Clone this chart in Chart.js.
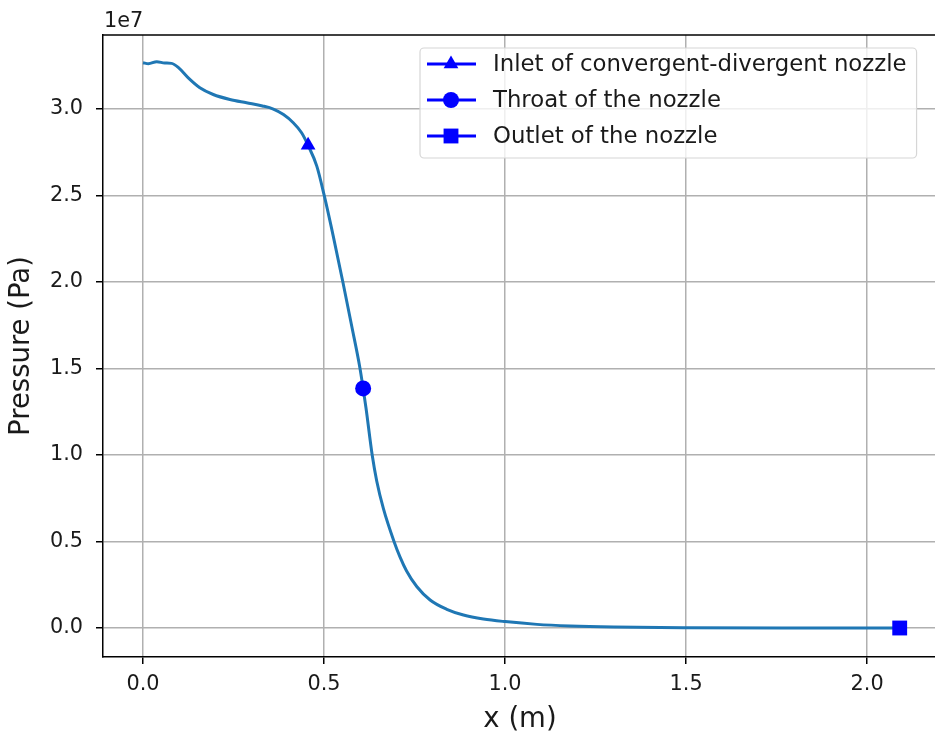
<!DOCTYPE html>
<html>
<head>
<meta charset="utf-8">
<title>Pressure along the nozzle</title>
<script src="https://cdn.jsdelivr.net/npm/chart.js@4.4.0/dist/chart.umd.min.js"></script>
<style>
    body { margin: 0; background: #fff; overflow: hidden; }
    #wrap { width: 935px; height: 738px; overflow: hidden; position: relative; }
</style>
</head>
<body>
<div id="wrap"><canvas id="canvas" width="950" height="738"></canvas></div>
<script>
// axial position (m) and static pressure (units of 1e7 Pa)
const xPos = [
    0.000, 0.015, 0.038, 0.060, 0.079, 0.098, 0.125, 0.157, 0.194, 0.240,
    0.286, 0.330, 0.360, 0.388, 0.415, 0.438, 0.456, 0.480, 0.500, 0.525,
    0.552, 0.576, 0.599, 0.608, 0.616, 0.633, 0.6455, 0.664, 0.693, 0.710,
    0.728, 0.756, 0.793, 0.839, 0.885, 0.940, 1.000, 1.088, 1.180, 1.300,
    1.500, 1.800, 2.090,
];
const pressure = [
    3.268, 3.262, 3.274, 3.266, 3.264, 3.239, 3.180, 3.123, 3.084, 3.055,
    3.036, 3.018, 3.000, 2.968, 2.921, 2.863, 2.790, 2.670, 2.505, 2.270,
    2.000, 1.750, 1.505, 1.385, 1.270, 1.000, 0.850, 0.690, 0.502, 0.410,
    0.330, 0.240, 0.162, 0.108, 0.075, 0.052, 0.037, 0.021, 0.012, 0.006,
    0.002, 0.0005, 0.000,
];

// marked locations
const markerLabels = ['Inlet of convergent-divergent nozzle', 'Throat of the nozzle', 'Outlet of the nozzle'];
const markerX = [0.456, 0.608, 2.090];
const markerY = [2.790, 1.385, 0.000];
const markerStyles = ['triangle', 'circle', 'rect'];

const xTicks = [0, 0.5, 1.0, 1.5, 2.0];
const yTicks = [0, 0.5, 1.0, 1.5, 2.0, 2.5, 3.0];

const FONT = "'DejaVu Sans', sans-serif";
const TEXT = '#1a1a1a';
const MARKER_BLUE = '#0000ff';
const markerRadius = { triangle: 8.5, circle: 8, rect: 10.5 };

function drawMarker(ctx, style, x, y) {
    const r = markerRadius[style];
    ctx.beginPath();
    if (style === 'triangle') {
        ctx.moveTo(x, y - r);
        ctx.lineTo(x + r * Math.sin(2 * Math.PI / 3), y + r / 2);
        ctx.lineTo(x - r * Math.sin(2 * Math.PI / 3), y + r / 2);
        ctx.closePath();
    } else if (style === 'circle') {
        ctx.arc(x, y, r, 0, Math.PI * 2);
    } else {
        const s = r * Math.SQRT1_2;
        ctx.rect(x - s, y - s, 2 * s, 2 * s);
    }
    ctx.fill();
}

const frameAndLegend = {
    id: 'frameAndLegend',
    afterDatasetsDraw(chart) {
        const ctx = chart.ctx;
        const area = chart.chartArea;
        ctx.save();

        // top spine; the right one is cut off in the original picture
        ctx.strokeStyle = '#000';
        ctx.lineWidth = 1.5;
        ctx.beginPath();
        ctx.moveTo(area.left, area.top);
        ctx.lineTo(area.right, area.top);
        ctx.stroke();

        // offset text of the y axis
        ctx.fillStyle = TEXT;
        ctx.font = '20.8px ' + FONT;
        ctx.textAlign = 'left';
        ctx.textBaseline = 'alphabetic';
        ctx.fillText('1e7', area.left + 1, area.top - 8);

        // legend
        ctx.font = '22.8px ' + FONT;
        const entries = chart.data.datasets.filter((d) => d.inLegend);
        const boxX = 420, boxY = 48, rowH = 36;
        const textX = boxX + 73;
        let maxW = 0;
        entries.forEach((d) => { maxW = Math.max(maxW, ctx.measureText(d.label).width); });
        const boxW = textX - boxX + maxW + 10;
        const boxH = 110;

        ctx.globalAlpha = 0.8;
        ctx.fillStyle = '#fff';
        ctx.beginPath();
        ctx.roundRect(boxX, boxY, boxW, boxH, 4);
        ctx.fill();
        ctx.globalAlpha = 1;
        ctx.strokeStyle = '#d6d6d6';
        ctx.lineWidth = 1.2;
        ctx.stroke();

        entries.forEach((d, i) => {
            const cy = boxY + 16 + i * rowH;
            ctx.strokeStyle = d.borderColor;
            ctx.lineWidth = 3;
            ctx.beginPath();
            ctx.moveTo(boxX + 7, cy);
            ctx.lineTo(boxX + 56, cy);
            ctx.stroke();
            ctx.fillStyle = d.backgroundColor;
            drawMarker(ctx, d.pointStyle, boxX + 31, cy);
            ctx.fillStyle = TEXT;
            ctx.textBaseline = 'middle';
            ctx.fillText(d.label, textX, cy + 1);
        });
        ctx.restore();
    },
};

const datasets = [
    {
        label: 'pressure',
        data: xPos.map((x, i) => ({ x: x, y: pressure[i] })),
        borderColor: '#1f77b4',
        borderWidth: 3,
        pointRadius: 0,
        cubicInterpolationMode: 'monotone',
        order: 1,
    },
];
markerLabels.forEach((label, i) => {
    datasets.push({
        label: label,
        inLegend: true,
        data: [{ x: markerX[i], y: markerY[i] }],
        borderColor: MARKER_BLUE,
        backgroundColor: MARKER_BLUE,
        pointStyle: markerStyles[i],
        pointRadius: markerRadius[markerStyles[i]],
        pointBorderWidth: 0,
        order: 0,
    });
});

const tickFont = { family: FONT, size: 20.8 };
const titleFont = { family: FONT, size: 27.5 };

// grid and tick marks only on the listed values
const gridColor = (list) => (c) => (c.tick && list.includes(c.tick.value) ? '#b0b0b0' : 'rgba(0,0,0,0)');
const tickColor = (list) => (c) => (c.tick && list.includes(c.tick.value) ? '#000' : 'rgba(0,0,0,0)');

new Chart(document.getElementById('canvas'), {
    type: 'line',
    data: { datasets: datasets },
    options: {
        responsive: false,
        animation: false,
        events: [],
        layout: { autoPadding: false, padding: { top: 35, right: 13, left: 0, bottom: 0 } },
        plugins: { legend: { display: false }, tooltip: { enabled: false } },
        scales: {
            x: {
                type: 'linear',
                min: -0.1105,
                max: 2.193,
                afterFit: (scale) => { scale.height = 81; },
                afterBuildTicks: (scale) => { scale.ticks = xTicks.map((v) => ({ value: v })); },
                ticks: {
                    font: tickFont,
                    color: TEXT,
                    padding: 8,
                    maxRotation: 0,
                    includeBounds: false,
                    autoSkip: false,
                    callback: (v) => v.toFixed(1),
                },
                grid: { color: gridColor(xTicks), lineWidth: 1.5, tickColor: tickColor(xTicks), tickLength: 7, tickWidth: 1.5 },
                border: { color: '#000', width: 1.5 },
                title: { display: true, text: 'x (m)', font: titleFont, color: TEXT, padding: { top: 0, bottom: 1.5 } },
            },
            y: {
                type: 'linear',
                min: -0.1676,
                max: 3.428,
                afterFit: (scale) => { scale.width = 103; },
                afterBuildTicks: (scale) => { scale.ticks = yTicks.map((v) => ({ value: v })); },
                ticks: {
                    font: tickFont,
                    color: TEXT,
                    padding: 13,
                    includeBounds: false,
                    autoSkip: false,
                    callback: (v) => v.toFixed(1),
                },
                grid: { color: gridColor(yTicks), lineWidth: 1.5, tickColor: tickColor(yTicks), tickLength: 7, tickWidth: 1.5 },
                border: { color: '#000', width: 1.5 },
                title: { display: true, text: 'Pressure (Pa)', font: titleFont, color: TEXT, padding: { top: 5, bottom: 0 } },
            },
        },
    },
    plugins: [frameAndLegend],
});
</script>
</body>
</html>
